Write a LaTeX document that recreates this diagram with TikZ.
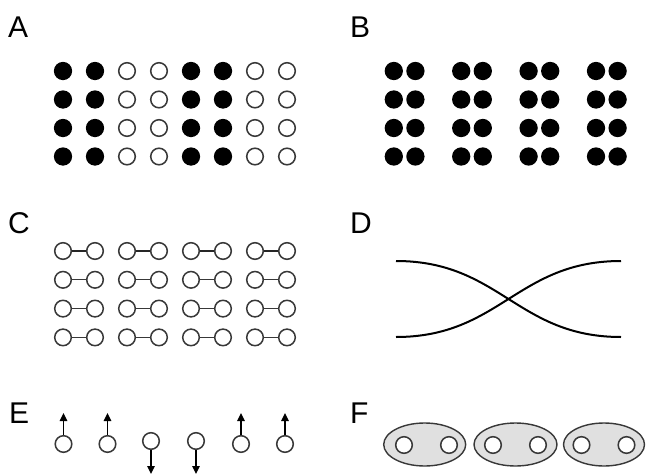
\documentclass[tikz,border=0pt]{standalone}
\usepackage{fontspec}
\newfontfamily\panelfont{Liberation Sans}
\usetikzlibrary{shapes.geometric,arrows.meta}
\definecolor{ink}{HTML}{383838}
\definecolor{shade}{HTML}{E0E0E0}
\tikzset{
  panel/.style={anchor=base west,inner sep=0pt,font=\panelfont\fontsize{30}{30}\selectfont},
  opendot/.style={circle,draw=ink,line width=1.5pt,fill=white,inner sep=0pt,minimum size=16.6pt},
  fulldot/.style={circle,fill=black,inner sep=0pt,minimum size=18.3pt},
  bond/.style={draw=ink,line width=1.3pt},
  strongbond/.style={draw=black!85,line width=2pt},
  strand/.style={draw=black,line width=2pt},
  spin/.style={draw=black,line width=1.4pt,-{Triangle[width=7.5pt,length=8pt]}},
  pairshell/.style={ellipse,draw=ink,line width=1.4pt,fill=shade,inner sep=0pt,minimum height=43pt}
}
\begin{document}
\begin{tikzpicture}[x=1pt,y=-1pt]
\useasboundingbox (0,0) rectangle (646,474);

% panel labels
\node[panel] (la) at (8,37) {A};
\node[panel] (lb) at (350,37) {B};
\node[panel] (lc) at (8,233) {C};
\node[panel] (ld) at (350,233) {D};
\node[panel] (le) at (9,423) {E};
\node[panel] (lf) at (350,423) {F};

% A: columns of filled and open sites
\foreach \i in {0,...,7}{
  \foreach \j in {0,...,3}{
    \pgfmathtruncatemacro{\m}{mod(\i,4)}
    \ifnum\m<2
      \node[fulldot] (a\i\j) at (63+32*\i,71+28.5*\j) {};
    \else
      \node[opendot] (a\i\j) at (63+32*\i,71+28.5*\j) {};
    \fi
  }
}

% B: filled sites grouped in pairs
\foreach \g in {0,...,3}{
  \foreach \j in {0,...,3}{
    \node[fulldot] (bl\g\j) at (393.8+67.4*\g,71+28.5*\j) {};
    \node[fulldot] (br\g\j) at (415.4+67.4*\g,71+28.5*\j) {};
  }
}

% C: bonded pairs of open sites
\foreach \g in {0,...,3}{
  \foreach \j in {0,...,3}{
    \node[opendot] (cl\g\j) at (63+64*\g,251+28.8*\j) {};
    \node[opendot] (cr\g\j) at (95+64*\g,251+28.8*\j) {};
    \ifnum\j=0
      \draw[strongbond] (cl\g\j) -- (cr\g\j);
    \else
      \draw[bond] (cl\g\j) -- (cr\g\j);
    \fi
  }
}

% D: two crossing strands
\coordinate (d1) at (396,261);
\coordinate (d2) at (621,337);
\coordinate (d3) at (396,337);
\coordinate (d4) at (621,261);
\draw[strand] (d1) .. controls (500,261) and (517,337) .. (d2);
\draw[strand] (d3) .. controls (500,337) and (517,261) .. (d4);

% E: sites with up and down spins
\foreach \k/\x in {1/63.5,2/107.5,5/241,6/285}{
  \node[opendot] (e\k) at (\x,444) {};
  \coordinate (et\k) at (\x,413);
  \draw[spin] (e\k) -- (et\k);
}
\foreach \k/\x in {3/151,4/196}{
  \node[opendot] (e\k) at (\x,441) {};
  \coordinate (et\k) at (\x,474);
  \draw[spin] (e\k) -- (et\k);
}

% F: pairs enclosed in shaded shells
\node[pairshell,minimum width=82pt] (f1) at (424.7,444.5) {};
\node[pairshell,minimum width=83pt] (f2) at (515.5,444.5) {};
\node[pairshell,minimum width=81pt] (f3) at (604,444.5) {};
\node[opendot] (f1a) at (404,445) {};
\node[opendot] (f1b) at (449,445) {};
\node[opendot] (f2a) at (493,445) {};
\node[opendot] (f2b) at (538,445) {};
\node[opendot] (f3a) at (581.5,445) {};
\node[opendot] (f3b) at (626.5,445) {};
\end{tikzpicture}
\end{document}
